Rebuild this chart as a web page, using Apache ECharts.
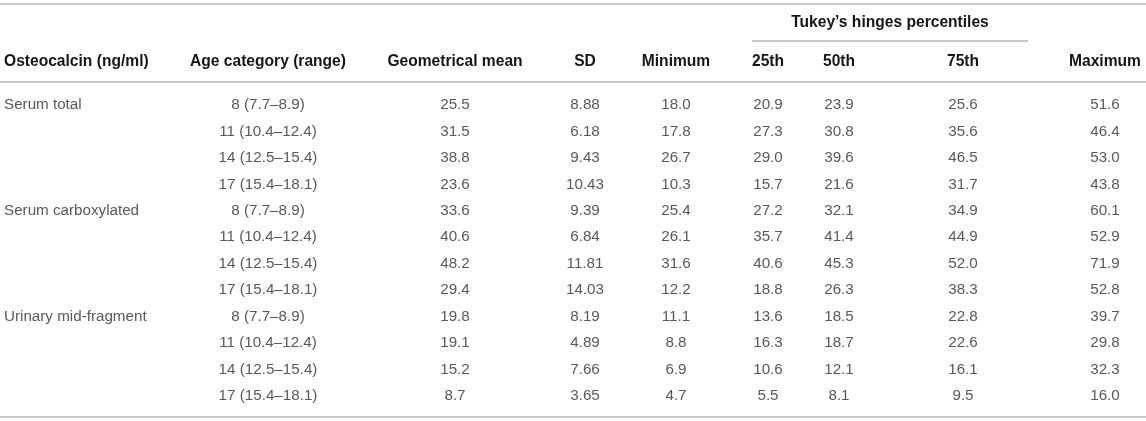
<!DOCTYPE html>
<html>
<head>
<meta charset="utf-8">
<script src="https://cdn.jsdelivr.net/npm/echarts@6/dist/echarts.min.js"></script>
<style>
  html, body { margin: 0; padding: 0; background: #fff; }
  #table-chart { width: 1146px; height: 421px; }
</style>
</head>
<body>
<div id="table-chart"></div>
<script>
// table content
var groups = ['Serum total', '', '', '', 'Serum carboxylated', '', '', '', 'Urinary mid-fragment', '', '', ''];
var ageCats = ['8 (7.7–8.9)', '11 (10.4–12.4)', '14 (12.5–15.4)', '17 (15.4–18.1)',
               '8 (7.7–8.9)', '11 (10.4–12.4)', '14 (12.5–15.4)', '17 (15.4–18.1)',
               '8 (7.7–8.9)', '11 (10.4–12.4)', '14 (12.5–15.4)', '17 (15.4–18.1)'];
var geoMean = ['25.5', '31.5', '38.8', '23.6', '33.6', '40.6', '48.2', '29.4', '19.8', '19.1', '15.2', '8.7'];
var sd      = ['8.88', '6.18', '9.43', '10.43', '9.39', '6.84', '11.81', '14.03', '8.19', '4.89', '7.66', '3.65'];
var minimum = ['18.0', '17.8', '26.7', '10.3', '25.4', '26.1', '31.6', '12.2', '11.1', '8.8', '6.9', '4.7'];
var p25     = ['20.9', '27.3', '29.0', '15.7', '27.2', '35.7', '40.6', '18.8', '13.6', '16.3', '10.6', '5.5'];
var p50     = ['23.9', '30.8', '39.6', '21.6', '32.1', '41.4', '45.3', '26.3', '18.5', '18.7', '12.1', '8.1'];
var p75     = ['25.6', '35.6', '46.5', '31.7', '34.9', '44.9', '52.0', '38.3', '22.8', '22.6', '16.1', '9.5'];
var maximum = ['51.6', '46.4', '53.0', '43.8', '60.1', '52.9', '71.9', '52.8', '39.7', '29.8', '32.3', '16.0'];

var headers = ['Osteocalcin (ng/ml)', 'Age category (range)', 'Geometrical mean', 'SD', 'Minimum',
               '25th', '50th', '75th', 'Maximum'];
var spanHeader = 'Tukey\u2019s hinges percentiles';

// layout (not data)
var columns = [groups, ageCats, geoMean, sd, minimum, p25, p50, p75, maximum];
var colX = [4, 268, 455, 585, 676, 768, 839, 963, 1105];
var W = 1146;
var FONT = '"Liberation Sans", Arial, Helvetica, sans-serif';
var headFont = 'bold 15.6px ' + FONT;
var ruleColor = '#b4b4b4';

var rowKeys = ageCats.map(function (c, i) { return 'r' + i; });

var myChart = echarts.init(document.getElementById('table-chart'));

var series = columns.map(function (col, ci) {
    return {
        type: 'scatter',
        symbolSize: 0,
        silent: true,
        animation: false,
        data: col.map(function (txt, ri) {
            return { value: [colX[ci], rowKeys[ri]], txt: txt };
        }).filter(function (d) { return d.txt !== ''; }),
        label: {
            show: true,
            position: 'inside',
            align: ci === 0 ? 'left' : 'center',
            verticalAlign: 'middle',
            color: '#2e2e2e',
            fontFamily: FONT,
            fontSize: 15.2,
            formatter: function (p) { return p.data.txt; }
        }
    };
});

// header texts and rules
var graphics = [
    { type: 'line', shape: { x1: 0, y1: 4, x2: W, y2: 4 }, style: { stroke: ruleColor, lineWidth: 1.5 } },
    { type: 'line', shape: { x1: 752, y1: 41, x2: 1028, y2: 41 }, style: { stroke: ruleColor, lineWidth: 1.5 } },
    { type: 'line', shape: { x1: 0, y1: 82, x2: W, y2: 82 }, style: { stroke: ruleColor, lineWidth: 1.5 } },
    { type: 'line', shape: { x1: 0, y1: 417, x2: W, y2: 417 }, style: { stroke: ruleColor, lineWidth: 1.5 } },
    {
        type: 'text', x: 890, y: 23,
        style: { text: spanHeader, fill: '#161616', font: headFont, align: 'center', verticalAlign: 'middle' }
    }
];
headers.forEach(function (h, i) {
    graphics.push({
        type: 'text', x: colX[i], y: 62,
        style: { text: h, fill: '#161616', font: headFont,
                 align: i === 0 ? 'left' : 'center', verticalAlign: 'middle' }
    });
});

var option = {
    animation: false,
    backgroundColor: '#fff',
    grid: { left: 0, right: 0, top: 92, bottom: 12 },
    xAxis: { type: 'value', min: 0, max: W, show: false },
    yAxis: { type: 'category', data: rowKeys, inverse: true, show: false },
    graphic: graphics,
    series: series
};

myChart.setOption(option);
</script>
</body>
</html>
